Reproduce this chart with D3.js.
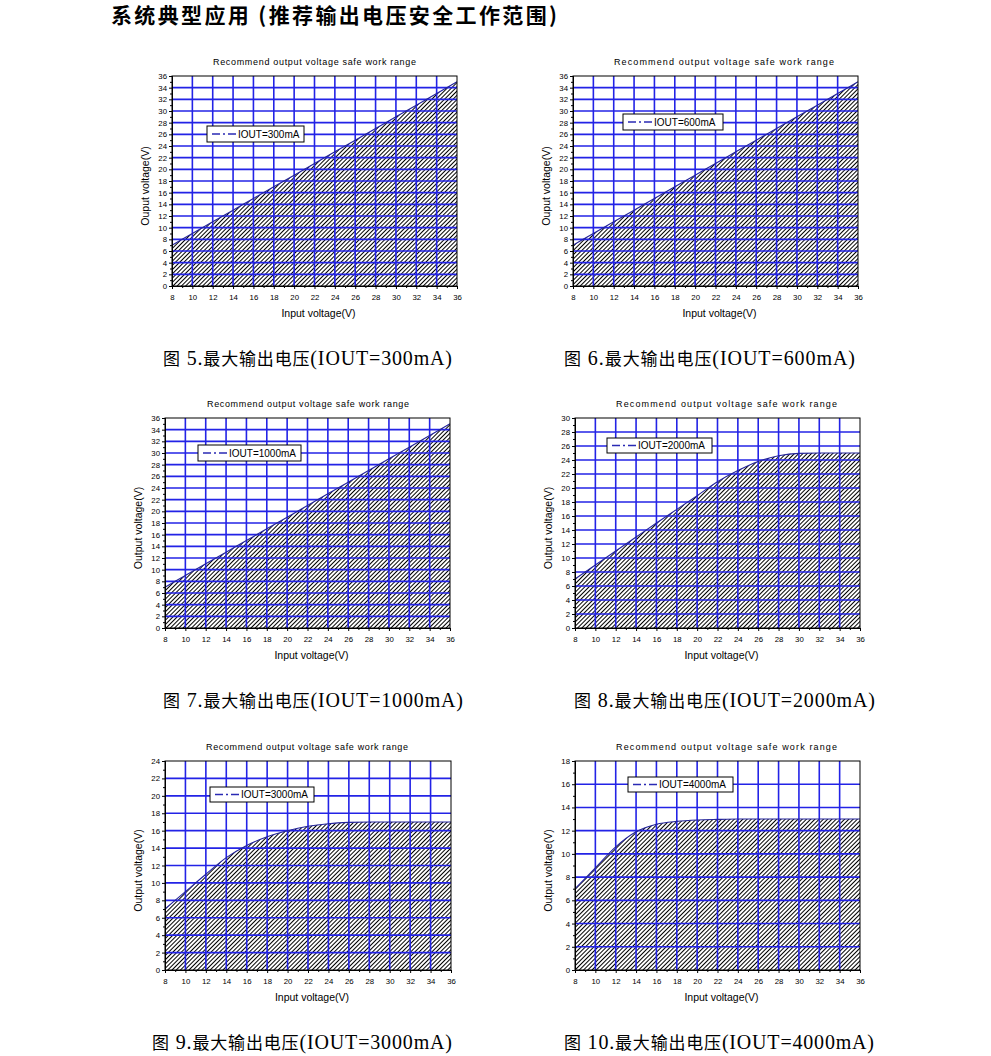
<!DOCTYPE html>
<html>
<head>
<meta charset="utf-8">
<script src="https://cdn.jsdelivr.net/npm/d3@7"></script>
<style>
  body { margin: 0; background: #fff; }
  svg { display: block; }
  .chart text { font-family: "Liberation Sans", Arial, sans-serif; fill: #000; }
</style>
</head>
<body>
<svg id="page" width="991" height="1056"></svg>
<script>
// input voltage (V), shared x axis of every chart
const inputVoltage = [8, 10, 12, 14, 16, 18, 20, 22, 24, 26, 28, 30, 32, 34, 36];
const xTickValues = [8, 10, 12, 14, 16, 18, 20, 22, 24, 26, 28, 30, 32, 34, 36];

// max recommended output voltage (V) per load current
const vout300 = [7, 9, 11, 13, 15, 17, 19, 21, 23, 25, 27, 29, 31, 33, 35];
const vout600 = [7, 9, 11, 13, 15, 17, 19, 21, 23, 25, 27, 29, 31, 33, 35];
const vout1000 = [7, 9, 11, 13, 15, 17, 19, 21, 23, 25, 27, 29, 31, 33, 35];
const vout2000 = [7, 9, 11, 13, 15, 16.95, 18.9, 20.9, 22.5, 23.8, 24.6, 24.95, 25, 25, 25];
const vout3000 = [7, 9, 11, 12.9, 14.3, 15.3, 16.0, 16.5, 16.8, 16.95, 17, 17, 17, 17, 17];
const vout4000 = [7, 8.8, 10.6, 11.9, 12.55, 12.8, 12.92, 12.97, 13, 13, 13, 13, 13, 13, 13];

const seriesNames = ['IOUT=300mA', 'IOUT=600mA', 'IOUT=1000mA', 'IOUT=2000mA', 'IOUT=3000mA', 'IOUT=4000mA'];
const yMaxValues = [36, 36, 36, 30, 24, 18];
const yTitles = ['Ouput voltage(V)', 'Ouput voltage(V)', 'Output voltage(V)', 'Output voltage(V)', 'Output voltage(V)', 'Output voltage(V)'];
const figureNumbers = ['5', '6', '7', '8', '9', '10'];
const captionCurrents = ['300mA', '600mA', '1000mA', '2000mA', '3000mA', '4000mA'];
const seriesList = [vout300, vout600, vout1000, vout2000, vout3000, vout4000];

const chartTitle = 'Recommend output voltage safe work range';
const xTitle = 'Input voltage(V)';

// layout of each panel (pixels)
const layouts = [
  {box: [172, 76, 457, 286], legend: [207, 126, 97, 16], titleX: 314.5, titleLen: 203, capX: 163, capY: 359, capLen: 289},
  {box: [573, 76, 858, 286], legend: [623, 114, 100, 16], titleX: 724, titleLen: 220, capX: 564, capY: 359, capLen: 291},
  {box: [165, 418, 450, 628], legend: [198, 445, 103, 16], titleX: 308, titleLen: 202, capX: 163, capY: 701, capLen: 300},
  {box: [575, 418, 860, 628], legend: [607, 438, 105, 15], titleX: 726.5, titleLen: 221, capX: 574, capY: 701, capLen: 301},
  {box: [165, 761, 451, 970], legend: [210, 787, 104, 15], titleX: 307, titleLen: 202, capX: 152, capY: 1043, capLen: 300},
  {box: [575, 761, 860, 970], legend: [628, 777, 105, 15], titleX: 726.5, titleLen: 221, capX: 564, capY: 1043, capLen: 310}
];

const svg = d3.select('#page');

// dense "////" hatching
const defs = svg.append('defs');
defs.append('pattern')
  .attr('id', 'hatch')
  .attr('patternUnits', 'userSpaceOnUse')
  .attr('width', 3)
  .attr('height', 10)
  .attr('patternTransform', 'rotate(45)')
  .append('line')
  .attr('x1', 0.5).attr('x2', 0.5)
  .attr('y1', -1).attr('y2', 11)
  .attr('stroke', '#000')
  .attr('stroke-width', 1);

// page heading
svg.append('text')
  .attr('x', 111)
  .attr('y', 23)
  .attr('textLength', 446)
  .attr('lengthAdjust', 'spacing')
  .style('font-family', '"Noto Sans CJK SC", sans-serif')
  .style('font-weight', 'bold')
  .style('font-size', '21px')
  .text('系统典型应用  (推荐输出电压安全工作范围)');

seriesList.forEach((values, i) => drawPanel(i, values));

function drawPanel(i, values) {
  const lay = layouts[i];
  const [left, top, right, bottom] = lay.box;
  const yMax = yMaxValues[i];

  const x = d3.scaleLinear().domain([8, 36]).range([left, right]);
  const y = d3.scaleLinear().domain([0, yMax]).range([bottom, top]);

  const g = svg.append('g').attr('class', 'chart');
  const data = inputVoltage.map((v, k) => [v, values[k]]);

  const area = d3.area()
    .curve(d3.curveMonotoneX)
    .x(d => x(d[0]))
    .y0(y(0))
    .y1(d => y(d[1]));
  const line = d3.line()
    .curve(d3.curveMonotoneX)
    .x(d => x(d[0]))
    .y(d => y(d[1]));

  g.append('path')
    .datum(data)
    .attr('fill', 'url(#hatch)')
    .attr('d', area);

  // blue grid
  const yMajor = d3.range(0, yMax + 1, 2);
  g.append('g').selectAll('line.v')
    .data(xTickValues.slice(1, -1))
    .join('line')
    .attr('x1', d => x(d)).attr('x2', d => x(d))
    .attr('y1', y(0)).attr('y2', y(yMax))
    .attr('stroke', '#2323e6')
    .attr('stroke-width', 1.6);
  g.append('g').selectAll('line.h')
    .data(yMajor.slice(1, -1))
    .join('line')
    .attr('x1', x(8)).attr('x2', x(36))
    .attr('y1', d => y(d)).attr('y2', d => y(d))
    .attr('stroke', '#2323e6')
    .attr('stroke-width', 1.6);

  g.append('path')
    .datum(data)
    .attr('fill', 'none')
    .attr('stroke', '#24249c')
    .attr('stroke-width', 1.1)
    .attr('d', line);

  // frame
  g.append('rect')
    .attr('x', left).attr('y', top)
    .attr('width', right - left).attr('height', bottom - top)
    .attr('fill', 'none')
    .attr('stroke', '#000')
    .attr('stroke-width', 1);

  // axes
  g.append('g')
    .attr('transform', 'translate(' + left + ',0)')
    .call(d3.axisLeft(y).tickValues(yMajor).tickSize(3).tickPadding(2));
  g.append('g')
    .attr('transform', 'translate(' + left + ',0)')
    .call(d3.axisLeft(y).tickValues(d3.range(1, yMax, 2)).tickSize(2).tickFormat(''));
  g.append('g')
    .attr('transform', 'translate(0,' + bottom + ')')
    .call(d3.axisBottom(x).tickValues(xTickValues).tickSize(3).tickPadding(5));
  g.append('g')
    .attr('transform', 'translate(0,' + bottom + ')')
    .call(d3.axisBottom(x).tickValues(d3.range(9, 36, 2)).tickSize(2).tickFormat(''));

  g.selectAll('.domain').attr('stroke', '#000');
  g.selectAll('.tick line').attr('stroke', '#000');
  g.selectAll('.tick text')
    .style('font-family', '"Liberation Sans", Arial, sans-serif')
    .style('font-size', '7.8px');

  // titles
  g.append('text')
    .attr('x', lay.titleX)
    .attr('y', top - 14)
    .attr('text-anchor', 'middle')
    .attr('dominant-baseline', 'central')
    .attr('textLength', lay.titleLen)
    .attr('lengthAdjust', 'spacing')
    .style('font-size', '9px')
    .text(chartTitle);

  g.append('text')
    .attr('x', (left + right) / 2 + 4)
    .attr('y', bottom + 27)
    .attr('text-anchor', 'middle')
    .attr('dominant-baseline', 'central')
    .style('font-size', '10.5px')
    .text(xTitle);

  g.append('text')
    .attr('transform', 'translate(' + (left - 27) + ',' + ((top + bottom) / 2 + 5) + ') rotate(-90)')
    .attr('text-anchor', 'middle')
    .attr('dominant-baseline', 'central')
    .style('font-size', '10.5px')
    .text(yTitles[i]);

  // legend
  const [lx, ly, lw, lh] = lay.legend;
  g.append('rect')
    .attr('x', lx).attr('y', ly)
    .attr('width', lw).attr('height', lh)
    .attr('fill', '#fff')
    .attr('stroke', '#000')
    .attr('stroke-width', 1);
  g.append('line')
    .attr('x1', lx + 5).attr('x2', lx + 29)
    .attr('y1', ly + lh / 2).attr('y2', ly + lh / 2)
    .attr('stroke', '#2a2ab4')
    .attr('stroke-width', 1.3)
    .attr('stroke-dasharray', '8,3,2,3');
  g.append('text')
    .attr('x', lx + 31)
    .attr('y', ly + lh / 2)
    .attr('dominant-baseline', 'central')
    .style('font-size', '10px')
    .text(seriesNames[i]);

  // caption
  const cap = svg.append('text')
    .attr('x', lay.capX)
    .attr('y', lay.capY + 6)
    .attr('textLength', lay.capLen)
    .attr('lengthAdjust', 'spacing')
    .style('font-family', '"Liberation Serif", "Times New Roman", serif');
  cap.append('tspan')
    .style('font-family', '"Noto Sans CJK SC", sans-serif')
    .style('font-size', '17px')
    .text('图');
  cap.append('tspan')
    .style('font-size', '20px')
    .text(' ' + figureNumbers[i] + '.');
  cap.append('tspan')
    .style('font-family', '"Noto Sans CJK SC", sans-serif')
    .style('font-size', '17px')
    .text('最大输出电压');
  cap.append('tspan')
    .style('font-size', '20px')
    .text('(IOUT=' + captionCurrents[i] + ')');
}
</script>
</body>
</html>
